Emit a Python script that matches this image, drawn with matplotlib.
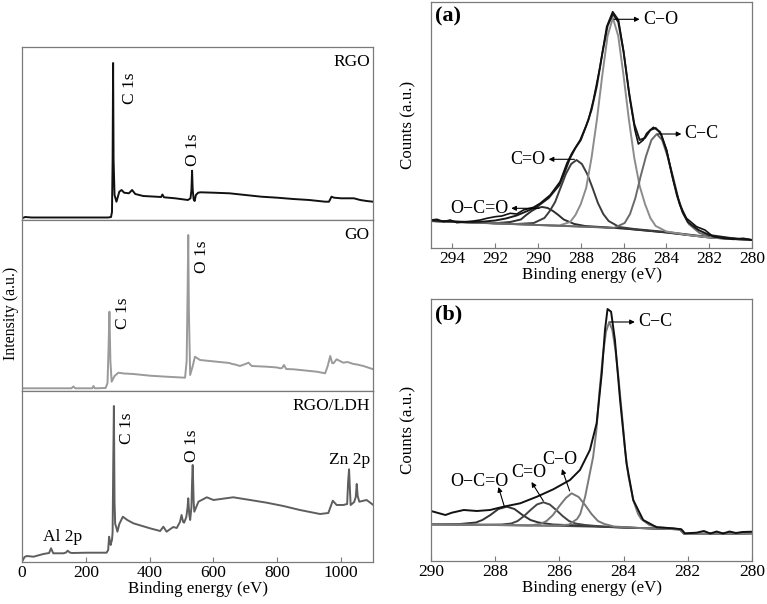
import matplotlib
matplotlib.use('Agg')
import matplotlib.pyplot as plt

plt.rcParams['font.family'] = ['Liberation Serif', 'DejaVu Serif']
plt.rcParams['font.size'] = 12.5

# ---- survey spectra (left), intensity in arbitrary units ----
rgo_E = [0, 10, 30, 100, 200, 270, 279, 282, 284, 285.5, 287, 290, 296, 305, 312, 320, 335, 345, 355, 380,
         420, 436, 440, 445, 480, 520, 528, 531, 533, 535, 538, 541, 545, 552, 560, 600, 650, 700, 750, 800,
         850, 900, 950, 962, 970, 978, 1000, 1040, 1060, 1080, 1100]
rgo_I = [1.7, 3, 2.5, 2.5, 2.5, 2.5, 3, 8, 60, 157, 60, 25, 18.3, 28.3, 30, 27.3, 26.7, 30, 26, 24,
         23.3, 23, 25.5, 22.7, 21.7, 20, 21.7, 30, 49.3, 30, 20.7, 19, 25, 27.3, 27.7, 27.3, 26.7, 25, 23.3, 22.3,
         21, 20, 18.3, 18.3, 23.3, 22.3, 21.7, 21.7, 20, 19, 18.3]

go_E = [0, 50, 100, 155, 161, 167, 220, 224, 228, 262, 268, 271, 274, 277, 281, 290, 302, 320, 349, 401,
        453, 511, 516, 519, 521, 523, 527, 535, 542, 558, 610, 650, 659, 668, 683, 700, 710, 720, 767, 800,
        809, 815, 821, 828, 851, 924, 950, 958, 966, 972, 976, 986, 1007, 1020, 1039, 1050, 1070, 1101]
go_I = [2.7, 2.7, 2.7, 2.7, 4.5, 2.7, 2.7, 5, 2.7, 3, 8, 40, 79.3, 30, 9.3, 15, 18.3, 17.5, 17, 15.3,
        14.3, 13.3, 30, 100, 156, 80, 16, 25, 34.3, 31, 29.3, 28, 27, 26.5, 25, 27, 28.3, 25, 24.3, 23.5,
        22.7, 23, 26, 22, 21.7, 19.3, 17.7, 25, 35, 28, 27.7, 31.7, 28.3, 29, 27, 26.5, 25, 21.7]

ldh_E = [0, 8, 15, 36, 67, 85, 91, 98, 130, 138, 143, 150, 156, 203, 265, 270, 273, 276, 278, 280,
         282, 284, 286, 288, 290, 292, 295, 299, 305, 316, 330, 349, 401, 433, 443, 453, 465, 474, 485, 495,
         500, 505, 508, 515, 519, 521, 524, 527, 531, 533, 535, 538, 540, 553, 579, 600, 662, 715, 767, 819,
         871, 934, 960, 974, 986, 1007, 1019, 1022, 1025, 1028, 1030, 1041, 1046, 1049, 1052, 1057, 1080, 1101]
ldh_I = [0.3, 5, 6, 5.3, 8, 9, 13.7, 8.7, 8.7, 9.5, 11.3, 9.5, 9, 9.3, 9.3, 12, 25.3, 20, 17, 20,
         22, 30, 100, 156, 60, 38, 35.3, 30.3, 38, 45.3, 42, 38.7, 33.7, 31, 35.3, 30.3, 33, 35, 34, 40,
         47, 40, 39.3, 45, 55, 63.7, 48, 42, 55, 80, 97, 60, 50.3, 60.3, 64.7, 62, 64.7, 62, 59.3, 56,
         52, 48, 49, 61.3, 57, 57, 58, 80, 92.7, 70, 57, 60, 65, 78, 66, 60.3, 62, 57]

# ---- C 1s of GO (a) ----
a_E_raw = [295.0, 294.72, 294.41, 294.1, 293.79, 293.32, 293.01, 292.7, 292.39, 292.0,
           291.69, 291.3, 290.99, 290.68, 290.21, 289.9, 289.43, 288.97, 288.65, 288.42,
           288.03, 287.64, 287.41, 287.1, 286.79, 286.51, 286.24, 286.01, 285.7, 285.47,
           285.31, 285.08, 284.92, 284.61, 284.3, 283.99, 283.68, 283.37, 283.06, 282.59,
           282.2, 281.81, 281.35, 280.88, 280.41, 280.0]
a_raw = [28, 28.7, 26.3, 28, 25.3, 26.3, 27, 28, 29.7, 31.3,
         32, 34.7, 34, 38, 40.7, 44.7, 53, 66.3, 84.7, 94.7,
         108, 128, 148, 181.3, 221.3, 236.3, 228, 198, 148, 118,
         104, 108, 114.7, 120.7, 116.3, 98, 68, 43, 29.7, 21.3,
         18, 11.3, 9.7, 8.7, 9.7, 8]
a_E_fit = [295, 294, 293, 292.5, 292, 291.5, 291, 290.5, 290, 289.5, 289, 288.75, 288.5, 288.25, 288,
           287.75, 287.5, 287.25, 287, 286.75, 286.5, 286.25, 286, 285.75, 285.5, 285.25, 285, 284.75,
           284.5, 284.25, 284, 283.75, 283.5, 283.25, 283, 282.5, 282, 281, 280]
a_fit = [27.5, 26.5, 26, 26.5, 27.5, 29.5, 32.5, 37, 42, 50, 63, 76, 90, 100, 108,
         122, 138, 162, 194, 222, 234, 226, 196, 156, 124, 108, 110, 118,
         120, 114, 98, 74, 52, 36, 26, 18, 13, 10, 8]
a_E_base = [295, 293, 291, 289, 287, 286, 285, 284, 283, 282, 281, 280]
a_base = [27, 25.4, 23.8, 22.2, 20.6, 19.5, 17.5, 15.5, 13, 10.5, 9, 8]
a_E_co = [295, 290, 289, 288.5, 288.25, 288, 287.75, 287.5, 287.25, 287, 286.75, 286.5, 286.25, 286,
          285.75, 285.5, 285.25, 285, 284.75, 284.5, 284, 283, 282, 281, 280]
a_co = [27, 23, 22.5, 26, 33, 44, 60, 90, 128, 172, 212, 230, 212, 172,
        128, 90, 62, 44, 30, 22, 16.5, 13, 10.5, 9, 8]
a_E_cc = [295, 287, 286.45, 285.95, 285.7, 285.45, 285.2, 284.95, 284.7, 284.45, 284.2, 283.95, 283.7,
          283.45, 283.2, 282.95, 282.45, 282, 281, 280]
a_cc = [27, 20.6, 20, 25, 34, 50, 72, 92, 108, 114, 108, 92, 72, 50, 34, 24, 15, 12, 9.5, 8]
a_E_cdo = [295, 291, 290.2, 289.7, 289.45, 289.2, 288.95, 288.7, 288.45, 288.2, 287.95, 287.7, 287.45,
           287.2, 286.95, 286.7, 286.2, 285.5, 284, 282, 280]
a_cdo = [27, 24, 25, 30, 37, 46, 60, 74, 84, 88, 84, 74, 60, 45, 34, 27, 21, 19, 16, 11, 8]
a_E_occ = [295, 293, 292, 291.3, 290.8, 290.55, 290.3, 290.05, 289.8, 289.55, 289.3, 289.05, 288.8,
           288.3, 287.8, 286, 284, 282, 280]
a_occ = [27, 25.6, 24.8, 26, 28.5, 33, 37, 40, 41, 40, 37, 33, 28.5, 24, 22, 19.5, 15.5, 10.5, 8]

# ---- C 1s of RGO/LDH (b) ----
b_E_raw = [290, 289.81, 289.55, 289.35, 288.98, 288.57, 288.16, 287.74, 287.22, 286.7,
           286.19, 285.67, 285.36, 285.05, 284.84, 284.68, 284.58, 284.5, 284.39, 284.27,
           284.11, 283.91, 283.7, 283.39, 282.97, 282.46, 282.2, 282.09, 281.73, 281.5,
           281.3, 281.1, 280.9, 280.7, 280.5, 280.3, 280]
b_raw = [50, 48.3, 46, 48.3, 51, 50, 51, 54.3, 57.7, 64.3,
         71.7, 81, 91, 111, 137.7, 187.7, 231, 252, 249.3, 221,
         161, 97.7, 61, 41, 33.7, 32.7, 31.7, 27.7, 28.3, 30,
         27.5, 29.5, 27.5, 29.5, 28, 29, 29.3]
b_E_base = [290, 288, 286, 284, 282.25, 282.1, 281, 280]
b_base = [36.7, 36, 35, 33.5, 31.7, 27, 27.3, 27.7]
b_E_cc = [290, 287, 286, 285.7, 285.45, 285.35, 285.2, 285.05, 284.95, 284.85, 284.75, 284.65, 284.55,
          284.45, 284.35, 284.25, 284.15, 284.05, 283.95, 283.85, 283.7, 283.55, 283.45, 283.2, 282.95,
          282.25, 282.1, 280]
b_cc = [36.7, 35.6, 35.5, 36.5, 42, 47, 64, 88, 104, 130, 170, 204, 229,
        239, 231, 210, 180, 146, 110, 85, 61, 47, 42, 36, 34, 31.7, 27, 27.7]
b_E_co = [290, 287, 286.9, 286.6, 286.4, 286.2, 286.0, 285.8, 285.62, 285.4, 285.2, 285.0, 284.8, 284.6,
          284.3, 283.5, 282.25, 282.1, 280]
b_co = [36.7, 35.6, 35.6, 37, 40, 46, 55, 63, 67.7, 64, 56, 47, 40, 37, 34.5, 33, 31.7, 27, 27.7]
b_E_cdo = [290, 288.5, 287.8, 287.5, 287.3, 287.1, 286.9, 286.7, 286.5, 286.3, 286.1, 285.9, 285.7,
           285.5, 285.2, 284.5, 282.25, 282.1, 280]
b_cdo = [36.7, 36.3, 36.5, 37.5, 40, 45, 51, 56.5, 58.7, 56.5, 51, 45, 40, 37.5, 36, 34, 31.7, 27, 27.7]
b_E_occ = [290, 289.1, 288.6, 288.4, 288.15, 287.9, 287.64, 287.4, 287.15, 286.9, 286.65, 286.2, 285,
           284, 282.25, 282.1, 280]
b_occ = [36.7, 37, 38.5, 41, 46, 52, 54.3, 52, 46, 41, 38.5, 36.5, 35, 33.5, 31.7, 27, 27.7]

W, H = 767, 604
fig = plt.figure(figsize=(W / 100, H / 100), dpi=100)
spine_col = '#7a7a7a'
ann_fs = 13
lab_fs = 12.2


def rect(x0, y0, x1, y1):
    return [x0 / W, 1 - y1 / H, (x1 - x0) / W, (y1 - y0) / H]


def style(ax, show_x=True):
    for s in ax.spines.values():
        s.set_color(spine_col)
        s.set_linewidth(0.9)
    ax.tick_params(axis='x', direction='in', length=3.5, width=0.8, color=spine_col,
                   pad=2, labelsize=12.5, bottom=show_x, labelbottom=show_x)
    ax.set_yticks([])


# left survey panels
ax1 = fig.add_axes(rect(22, 47, 373, 220))
ax2 = fig.add_axes(rect(22, 220, 373, 391))
ax3 = fig.add_axes(rect(22, 391, 373, 562))
panels = [(ax1, rgo_E, rgo_I, '#111111', 173, 'RGO'),
          (ax2, go_E, go_I, '#9a9a9a', 171, 'GO'),
          (ax3, ldh_E, ldh_I, '#5e5e5e', 171, 'RGO/LDH')]
for ax, e, i, c, top, name in panels:
    ax.plot(e, i, color=c, lw=1.4)
    ax.set_xlim(0, 1100)
    ax.set_ylim(0, top)
    ax.text(1090, top - 15, name, ha='right', va='center', fontsize=12.5)
    style(ax, show_x=(ax is ax3))
ax3.set_xticks([0, 200, 400, 600, 800, 1000])
ax3.set_xlabel('Binding energy (eV)', fontsize=lab_fs, labelpad=0)

ax1.text(338, 132, 'C 1s', rotation=90, ha='center', va='center', fontsize=12.5)
ax1.text(537, 70, 'O 1s', rotation=90, ha='center', va='center', fontsize=12.5)
ax2.text(318, 78, 'C 1s', rotation=90, ha='center', va='center', fontsize=12.5)
ax2.text(563, 134, 'O 1s', rotation=90, ha='center', va='center', fontsize=12.5)
ax3.text(328, 134, 'C 1s', rotation=90, ha='center', va='center', fontsize=12.5)
ax3.text(532, 116, 'O 1s', rotation=90, ha='center', va='center', fontsize=12.5)
ax3.text(1028, 102, 'Zn 2p', ha='center', va='center', fontsize=12.5)
ax3.text(126, 25, 'Al 2p', ha='center', va='center', fontsize=12.5)
fig.text(11.5 / W, 1 - 313 / H, 'Intensity (a.u.)', rotation=90, ha='center', va='center', fontsize=11.5)

arrow = dict(arrowstyle='-|>', color='k', lw=0.8, mutation_scale=7, shrinkA=0, shrinkB=0)

# panel (a)
axa = fig.add_axes(rect(431, 2, 752, 248))
axa.plot(a_E_base, a_base, color='#555555', lw=1.2)
axa.plot(a_E_occ, a_occ, color='#2e2e2e', lw=1.4)
axa.plot(a_E_cdo, a_cdo, color='#3c3c3c', lw=1.4)
axa.plot(a_E_co, a_co, color='#8c8c8c', lw=1.4)
axa.plot(a_E_cc, a_cc, color='#6a6a6a', lw=1.4)
axa.plot(a_E_fit, a_fit, color='#1a1a1a', lw=1.4)
axa.plot(a_E_raw, a_raw, color='#111111', lw=1.2)
axa.set_xlim(295, 280)
axa.set_ylim(0, 246)
axa.set_xticks([294, 292, 290, 288, 286, 284, 282, 280])
style(axa)
axa.set_xlabel('Binding energy (eV)', fontsize=lab_fs, labelpad=0)
axa.set_ylabel('Counts (a.u.)', fontsize=lab_fs)
axa.yaxis.set_label_coords(-0.044, 0.5)
axa.text(0.012, 0.942, '(a)', transform=axa.transAxes, fontsize=16, fontweight='bold',
         ha='left', va='center')
axa.annotate('', xy=(285.25, 228.7), xytext=(286.45, 228.7), arrowprops=arrow)
axa.text(285.1, 228.7, 'C\u2212O', ha='left', va='center', fontsize=ann_fs)
axa.annotate('', xy=(283.3, 114), xytext=(284.4, 114), arrowprops=arrow)
axa.text(283.15, 114, 'C\u2212C', ha='left', va='center', fontsize=ann_fs)
axa.annotate('', xy=(289.5, 88.7), xytext=(288.3, 88.7), arrowprops=arrow)
axa.text(289.65, 88.7, 'C=O', ha='right', va='center', fontsize=ann_fs)
axa.annotate('', xy=(291.25, 39.7), xytext=(289.95, 39.7), arrowprops=arrow)
axa.text(291.38, 39.7, 'O\u2212C=O', ha='right', va='center', fontsize=ann_fs)

# panel (b)
axb = fig.add_axes(rect(431, 299, 752, 561))
axb.plot(b_E_base, b_base, color='#555555', lw=1.2)
axb.plot(b_E_occ, b_occ, color='#333333', lw=1.4)
axb.plot(b_E_cdo, b_cdo, color='#444444', lw=1.4)
axb.plot(b_E_co, b_co, color='#777777', lw=1.4)
axb.plot(b_E_cc, b_cc, color='#7a7a7a', lw=1.4)
axb.plot(b_E_raw, b_raw, color='#111111', lw=1.4)
axb.set_xlim(290, 280)
axb.set_ylim(0, 262)
axb.set_xticks([290, 288, 286, 284, 282, 280])
style(axb)
axb.set_xlabel('Binding energy (eV)', fontsize=lab_fs, labelpad=0)
axb.set_ylabel('Counts (a.u.)', fontsize=lab_fs)
axb.yaxis.set_label_coords(-0.044, 0.5)
axb.text(0.012, 0.942, '(b)', transform=axb.transAxes, fontsize=16, fontweight='bold',
         ha='left', va='center')
axb.annotate('', xy=(283.65, 239), xytext=(284.42, 239), arrowprops=arrow)
axb.text(283.55, 239, 'C\u2212C', ha='left', va='center', fontsize=ann_fs)
axb.annotate('', xy=(285.92, 92), xytext=(285.68, 70), arrowprops=arrow)
axb.text(286.0, 102, 'C\u2212O', ha='center', va='center', fontsize=ann_fs)
axb.annotate('', xy=(286.87, 79), xytext=(286.5, 60), arrowprops=arrow)
axb.text(286.94, 88.5, 'C=O', ha='center', va='center', fontsize=ann_fs)
axb.annotate('', xy=(287.9, 74), xytext=(287.72, 55), arrowprops=arrow)
axb.text(288.48, 79, 'O\u2212C=O', ha='center', va='center', fontsize=ann_fs)

fig.savefig('out.png', dpi=100)
